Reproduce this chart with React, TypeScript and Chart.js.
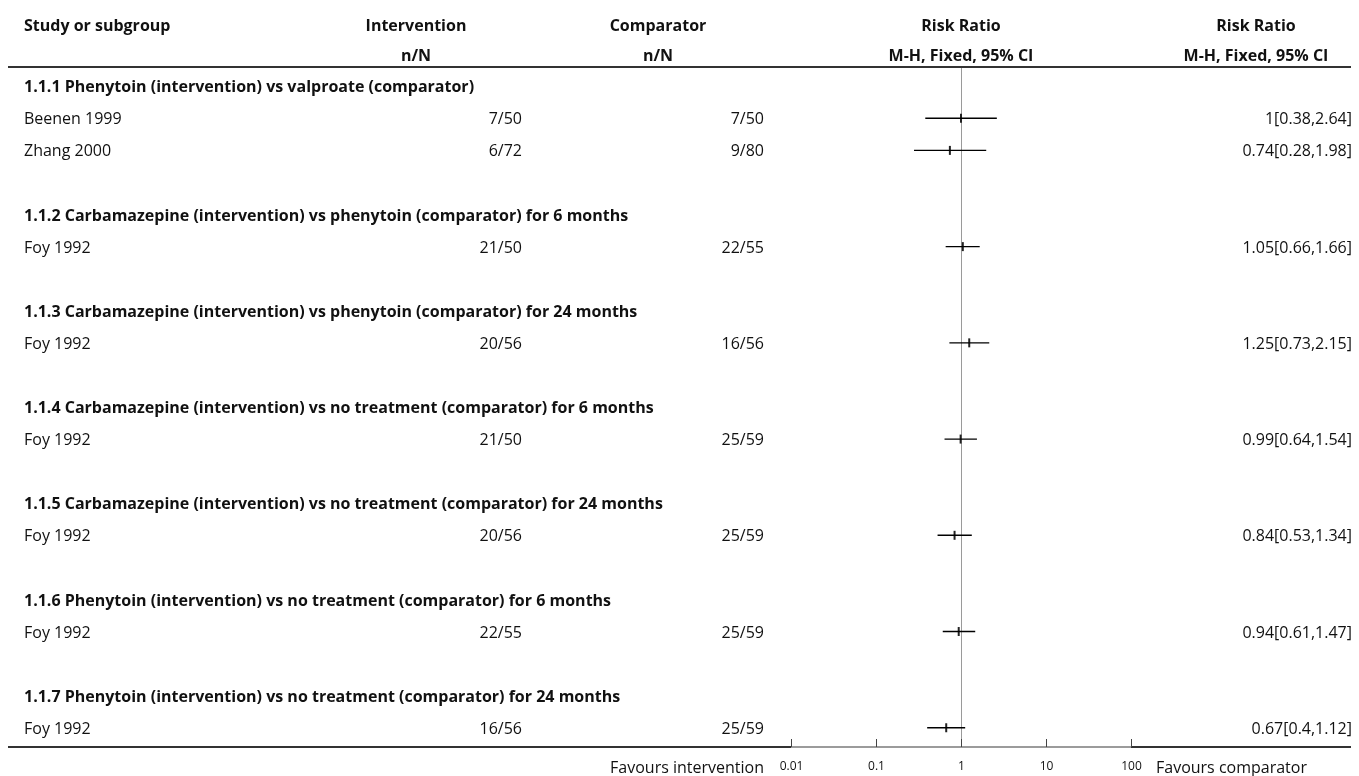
import React, { useEffect, useRef } from "react";
import { Chart, registerables } from "chart.js";

Chart.register(...registerables);

// Subgroup titles, in display order
const groupTitles = [
  "1.1.1 Phenytoin (intervention) vs valproate (comparator)",
  "1.1.2 Carbamazepine (intervention) vs phenytoin (comparator) for 6 months",
  "1.1.3 Carbamazepine (intervention) vs phenytoin (comparator) for 24 months",
  "1.1.4 Carbamazepine (intervention) vs no treatment (comparator) for 6 months",
  "1.1.5 Carbamazepine (intervention) vs no treatment (comparator) for 24 months",
  "1.1.6 Phenytoin (intervention) vs no treatment (comparator) for 6 months",
  "1.1.7 Phenytoin (intervention) vs no treatment (comparator) for 24 months",
];

// One entry per study row
const studyNames = ["Beenen 1999", "Zhang 2000", "Foy 1992", "Foy 1992", "Foy 1992", "Foy 1992", "Foy 1992", "Foy 1992"];
const studyGroup = [0, 0, 1, 2, 3, 4, 5, 6];
const interventionEvents = ["7/50", "6/72", "21/50", "20/56", "21/50", "20/56", "22/55", "16/56"];
const comparatorEvents = ["7/50", "9/80", "22/55", "16/56", "25/59", "25/59", "25/59", "25/59"];
const riskRatio = [1, 0.74, 1.05, 1.25, 0.99, 0.84, 0.94, 0.67];
const ciLower = [0.38, 0.28, 0.66, 0.73, 0.64, 0.53, 0.61, 0.4];
const ciUpper = [2.64, 1.98, 1.66, 2.15, 1.54, 1.34, 1.47, 1.12];

// Risk ratio axis
const axisTicks = [0.01, 0.1, 1, 10, 100];
const axisLabels = ["0.01", "0.1", "1", "10", "100"];

const FONT = '"Open Sans", "Noto Sans", sans-serif';
const TEXT = "#111";

type Row = { kind: "group" | "study" | "blank"; index: number };

// Lay rows out: group title, its studies, then a spacer between groups
function buildRows(): Row[] {
  const rows: Row[] = [];
  groupTitles.forEach((_, g) => {
    rows.push({ kind: "group", index: g });
    studyGroup.forEach((sg, s) => {
      if (sg === g) rows.push({ kind: "study", index: s });
    });
    if (g < groupTitles.length - 1) rows.push({ kind: "blank", index: -1 });
  });
  return rows;
}

export default function App() {
  const canvasRef = useRef<HTMLCanvasElement | null>(null);

  useEffect(() => {
    const canvas = canvasRef.current;
    if (!canvas) return;
    const rows = buildRows();
    const studyRow: number[] = [];
    rows.forEach((r, i) => {
      if (r.kind === "study") studyRow[r.index] = i;
    });

    const ciDatasets = studyNames.map((name, s) => ({
      type: "line" as const,
      label: name,
      data: [
        { x: ciLower[s], y: studyRow[s] },
        { x: ciUpper[s], y: studyRow[s] },
      ],
      borderColor: "#000",
      borderWidth: 1.4,
      pointRadius: 0,
      showLine: true,
      fill: false,
    }));

    const estimates = {
      type: "scatter" as const,
      label: "Risk ratio",
      data: riskRatio.map((v, s) => ({ x: v, y: studyRow[s] })),
      pointStyle: "line" as const,
      rotation: 90,
      radius: 4.5,
      borderColor: "#222",
      borderWidth: 2,
      backgroundColor: "#222",
    };

    const tablePlugin = {
      id: "forestTable",
      afterDraw(chart: any) {
        const ctx: CanvasRenderingContext2D = chart.ctx;
        const area = chart.chartArea;
        const xs = chart.scales.x;
        const ys = chart.scales.y;
        const L = 8;
        const R = 1351;
        const studyX = 24;
        const intervRight = 522;
        const compRight = 764;
        const valueRight = 1352;
        const intervCenter = 416;
        const compCenter = 658;
        const plotCenter = (area.left + area.right) / 2;
        const rightCenter = 1256;
        const nudge = 1.5;

        const text = (s: string, x: number, y: number, align: CanvasTextAlign, weight: string, size: number) => {
          ctx.font = `${weight} ${size}px ${FONT}`;
          ctx.textAlign = align;
          ctx.textBaseline = "middle";
          ctx.fillStyle = TEXT;
          ctx.fillText(s, x, y + nudge);
        };

        ctx.save();
        // Column headers
        const h1 = area.top - 42;
        const h2 = area.top - 12;
        text("Study or subgroup", studyX, h1, "left", "bold", 16);
        text("Intervention", intervCenter, h1, "center", "bold", 16);
        text("n/N", intervCenter, h2, "center", "bold", 16);
        text("Comparator", compCenter, h1, "center", "bold", 16);
        text("n/N", compCenter, h2, "center", "bold", 16);
        text("Risk Ratio", plotCenter, h1, "center", "bold", 16);
        text("M-H, Fixed, 95% CI", plotCenter, h2, "center", "bold", 16);
        text("Risk Ratio", rightCenter, h1, "center", "bold", 16);
        text("M-H, Fixed, 95% CI", rightCenter, h2, "center", "bold", 16);

        // Body rows
        rows.forEach((r, i) => {
          const y = ys.getPixelForValue(i);
          if (r.kind === "group") {
            text(groupTitles[r.index], studyX, y, "left", "bold", 16);
          } else if (r.kind === "study") {
            const s = r.index;
            text(studyNames[s], studyX, y, "left", "normal", 16);
            text(interventionEvents[s], intervRight, y, "right", "normal", 16);
            text(comparatorEvents[s], compRight, y, "right", "normal", 16);
            text(`${riskRatio[s]}[${ciLower[s]},${ciUpper[s]}]`, valueRight, y, "right", "normal", 16);
          }
        });

        // Rule under the header
        ctx.strokeStyle = "#333";
        ctx.lineWidth = 2;
        ctx.beginPath();
        ctx.moveTo(L, area.top);
        ctx.lineTo(R, area.top);
        ctx.stroke();

        // Bottom rule, interrupted by the axis
        const yb = area.bottom;
        ctx.beginPath();
        ctx.moveTo(L, yb);
        ctx.lineTo(area.left, yb);
        ctx.moveTo(area.right, yb);
        ctx.lineTo(R, yb);
        ctx.stroke();

        ctx.strokeStyle = "#7a7a7a";
        ctx.lineWidth = 1.5;
        ctx.beginPath();
        ctx.moveTo(area.left, yb);
        ctx.lineTo(area.right, yb);
        ctx.stroke();

        // Axis ticks pointing up, with labels below
        ctx.strokeStyle = "#444";
        ctx.lineWidth = 1;
        axisTicks.forEach((v, k) => {
          const x = Math.round(xs.getPixelForValue(v)) + 0.5;
          ctx.beginPath();
          ctx.moveTo(x, yb);
          ctx.lineTo(x, yb - 8);
          ctx.stroke();
          text(axisLabels[k], x, yb + 18, "center", "normal", 12);
        });

        text("Favours intervention", compRight, yb + 20, "right", "normal", 16);
        text("Favours comparator", 1156, yb + 20, "left", "normal", 16);
        ctx.restore();
      },
    };

    const chart = new Chart(canvas, {
      data: { datasets: [...ciDatasets, estimates] as any },
      options: {
        animation: false,
        responsive: false,
        maintainAspectRatio: false,
        layout: { padding: { left: 791, right: 228, top: 67, bottom: 29 } },
        plugins: { legend: { display: false }, tooltip: { enabled: false } },
        scales: {
          x: {
            type: "logarithmic",
            min: 0.01,
            max: 100,
            afterBuildTicks: (scale: any) => {
              scale.ticks = axisTicks.map((v) => ({ value: v }));
            },
            ticks: { display: false },
            border: { display: false },
            grid: {
              drawTicks: false,
              lineWidth: 1,
              color: (c: any) => (c.tick && c.tick.value === 1 ? "#9a9a9a" : "rgba(0,0,0,0)"),
            },
          },
          y: {
            type: "linear",
            min: -0.6,
            max: rows.length - 1 + 0.6,
            reverse: true,
            display: false,
          },
        },
      } as any,
      plugins: [tablePlugin],
    });

    if ((document as any).fonts && (document as any).fonts.ready) {
      (document as any).fonts.ready.then(() => chart.draw());
    }

    return () => chart.destroy();
  }, []);

  return (
    <div style={{ position: "fixed", left: 0, top: 0, width: 1359, height: 776, background: "#fff" }}>
      <canvas ref={canvasRef} width={1359} height={776} style={{ display: "block", width: 1359, height: 776 }} />
    </div>
  );
}
